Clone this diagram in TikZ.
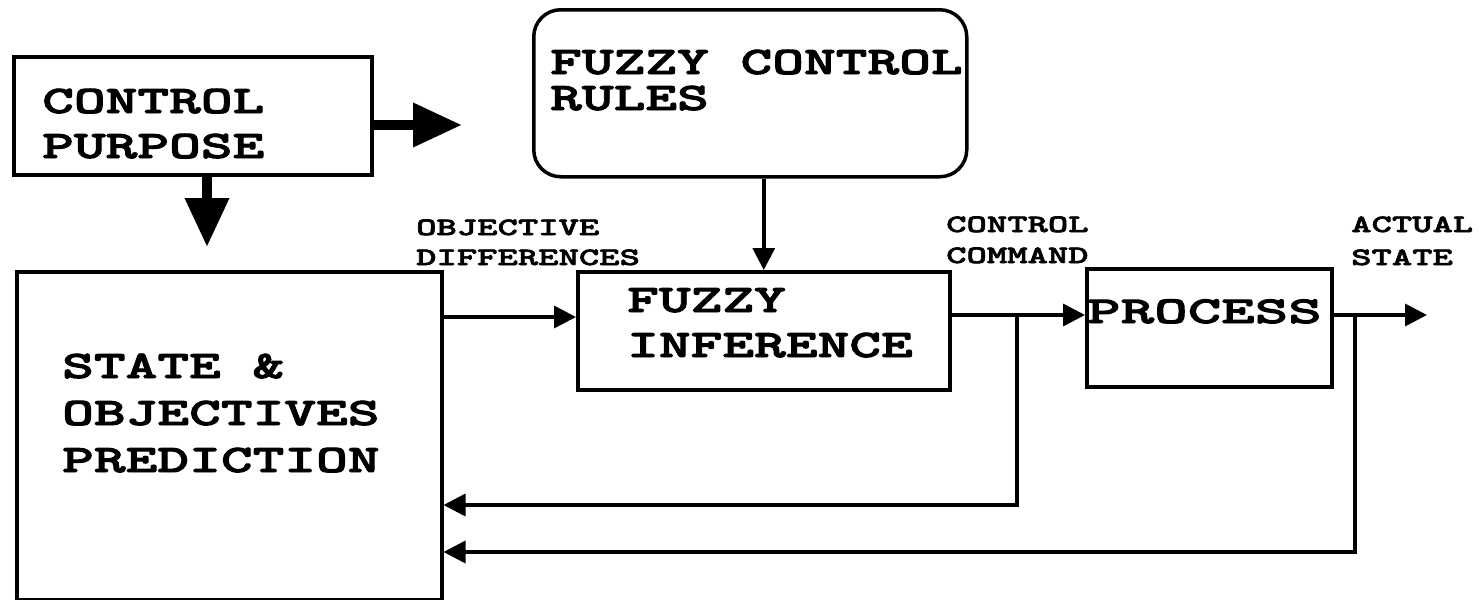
\documentclass[tikz,border=0pt]{standalone}
\usepackage{fontspec}
\newfontfamily\cour{lmmonolt10-bold}[Extension=.otf,FakeStretch=1.55,FakeBold=2.5]
\newfontfamily\courw{lmmonolt10-bold}[Extension=.otf,FakeStretch=1.68,FakeBold=2.5]
\usetikzlibrary{arrows.meta,calc}
\begin{document}
\begin{tikzpicture}[x=1pt,y=-1pt,
  box/.style={draw,line width=3.5pt,inner sep=0pt,anchor=north west},
  big/.style={inner sep=0pt,anchor=base west,font=\cour\fontsize{39}{47}\selectfont},
  small/.style={inner sep=0pt,anchor=base west,font=\cour\fontsize{25}{30}\selectfont},
  flow/.style={line width=3.5pt,-{Triangle[length=22pt,width=22pt]}},
  thick flow/.style={line width=10pt,-{Triangle[length=49pt,width=42pt]}}]
\useasboundingbox (0,0) rectangle (1484,600);
% boxes
\node[box,minimum width=358pt,minimum height=118pt] (cp) at (12,55) {};
\node[box,rounded corners=27pt,minimum width=433pt,minimum height=167pt] (rules) at (532,8) {};
\node[box,minimum width=425pt,minimum height=328pt] (sop) at (15,270) {};
\node[box,minimum width=372pt,minimum height=118pt] (fi) at (576,270) {};
\node[box,minimum width=245pt,minimum height=118pt] (proc) at (1085,267) {};
% box texts
\node[big] (t1) at (42,113) {CONTROL};
\node[big] (t2) at (42,158) {PURPOSE};
\node[big] (t3) at (550,74) {FUZZY CONTROL};
\node[big] (t4) at (550,110) {RULES};
\node[big] (t5) at (627,312) {FUZZY};
\node[big] (t6) at (627,357) {INFERENCE};
\node[big,font=\courw\fontsize{38}{47}\selectfont] (t7) at (1087,323) {PROCESS};
\node[big] (t8) at (62,378) {STATE \&};
\node[big] (t9) at (62,425) {OBJECTIVES};
\node[big] (t10) at (62,472) {PREDICTION};
% labels
\node[small] (l1) at (416,235) {OBJECTIVE};
\node[small] (l2) at (416,265) {DIFFERENCES};
\node[small] (l3) at (946,232) {CONTROL};
\node[small] (l4) at (946,263) {COMMAND};
\node[small] (l5) at (1351,232) {ACTUAL};
\node[small] (l6) at (1351,265) {STATE};
% helper coordinates
\coordinate (ya) at (0,125);
\coordinate (xa) at (207,0);
\coordinate (rt) at (462,125);
\coordinate (dn) at (207,247);
\coordinate (yin) at (0,317);
\coordinate (ycmd) at (0,315);
\coordinate (b1) at (1017,315);
\coordinate (b1d) at (1017,505);
\coordinate (b2) at (1355,315);
\coordinate (b2d) at (1355,552);
\coordinate (out) at (1427,315);
% connectors
\draw[thick flow] (cp.east |- ya) -- (rt);
\draw[thick flow] (cp.south -| xa) -- (dn);
\draw[flow] (rules.south -| fi.north) -- (fi.north);
\draw[flow] (sop.east |- yin) -- (fi.west |- yin);
\draw[flow] (fi.east |- ycmd) -- (proc.west |- ycmd);
\draw[flow] (proc.east |- ycmd) -- (out);
\draw[flow] (b1) -- (b1d) -- (sop.east |- b1d);
\draw[flow] (b2) -- (b2d) -- (sop.east |- b2d);
\end{tikzpicture}
\end{document}
